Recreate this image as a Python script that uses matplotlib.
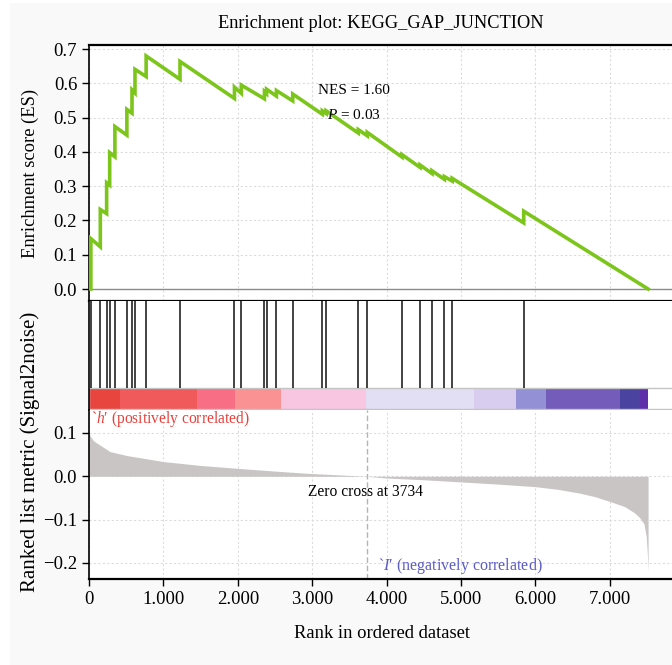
import matplotlib
matplotlib.use('Agg')
import matplotlib.pyplot as plt
from matplotlib.patches import Rectangle

plt.rcParams['font.family'] = ['Liberation Serif', 'DejaVu Serif']
plt.rcParams['mathtext.fontset'] = 'custom'
plt.rcParams['mathtext.rm'] = 'Liberation Serif'
plt.rcParams['mathtext.it'] = 'Liberation Serif:italic'

# running enrichment score, vertices (rank, ES)
es_rank = [0, 25, 25, 152, 152, 237, 237, 278, 278, 348, 348, 509, 509, 578, 578,
           618, 618, 768, 768, 1223, 1223, 1955, 1955, 2047, 2047, 2358, 2358,
           2387, 2387, 2519, 2519, 2738, 2738, 3136, 3136, 3187, 3187, 3620, 3620,
           3740, 3740, 4207, 4207, 4449, 4449, 4610, 4610, 4777, 4777, 4881, 4881,
           5843, 5843, 7515]
es_val = [0.0, 0.0, 0.147, 0.123, 0.232, 0.220, 0.310, 0.303, 0.398, 0.386, 0.474,
          0.449, 0.524, 0.513, 0.581, 0.572, 0.641, 0.620, 0.680, 0.612, 0.664,
          0.556, 0.589, 0.571, 0.595, 0.555, 0.576, 0.570, 0.583, 0.563, 0.579,
          0.549, 0.569, 0.510, 0.520, 0.512, 0.520, 0.455, 0.465, 0.447, 0.457,
          0.385, 0.392, 0.355, 0.362, 0.337, 0.345, 0.320, 0.328, 0.315, 0.323,
          0.193, 0.227, 0.0]

# gene set hits
hits = [25, 152, 237, 278, 348, 509, 578, 618, 768, 1223, 1955, 2047, 2358, 2387,
        2519, 2738, 3136, 3187, 3620, 3740, 4207, 4449, 4610, 4777, 4881, 5843]

# ranked list metric
metric_rank = [0, 20, 60, 148, 282, 506, 1000, 1500, 1985, 2500, 2926, 3734, 4000,
               4500, 5000, 5500, 6000, 6300, 6600, 6800, 7000, 7200, 7330, 7400,
               7460, 7490, 7505, 7515]
metric_val = [0.100, 0.092, 0.082, 0.072, 0.057, 0.048, 0.034, 0.025, 0.0185,
              0.012, 0.007, 0.0, -0.004, -0.008, -0.013, -0.018, -0.024, -0.030,
              -0.039, -0.047, -0.058, -0.070, -0.084, -0.095, -0.110, -0.140,
              -0.180, -0.220]

# colour bar segments (rank boundaries)
bar_edges = [0, 417, 1453, 1961, 2577, 3729, 5169, 5745, 6148, 7139, 7404, 7514]
bar_colors = ['#e8453f', '#f05a5a', '#f86e84', '#fa9193', '#f8c6e0', '#e2def4',
              '#d8cdee', '#9490d6', '#735cba', '#4a439f', '#5e2eaa']

zero_cross = 3734
x_ticks = [0, 1000, 2000, 3000, 4000, 5000, 6000, 7000]
es_ticks = [0.0, 0.1, 0.2, 0.3, 0.4, 0.5, 0.6, 0.7]
rk_ticks = [-0.2, -0.1, 0.0, 0.1]

W, H = 672, 665
fig = plt.figure(figsize=(W / 100, H / 100), dpi=100)
fig.patches.append(Rectangle((10 / W, 0), 1, (H - 3) / H, transform=fig.transFigure,
                             facecolor='#f9f9f9', edgecolor='none', zorder=-10))


def px_axes(top, bottom):
    left = 89 / W
    width = 7900 * 0.0744 / W
    return fig.add_axes([left, (H - bottom) / H, width, (bottom - top) / H])


xmax = 7900
grid_kw = dict(color='#dcdcdc', linestyle=(0, (2, 2)), linewidth=0.8)
tick_fs = 13.5

# --- ES panel
ax1 = px_axes(45, 301)
ax1.plot(es_rank, es_val, color='#7cc51a', lw=2.6, solid_joinstyle='miter', zorder=3)
ax1.axhline(0, color='#8c8c8c', lw=1, zorder=2)
ax1.set_xlim(0, xmax)
ax1.set_ylim(-0.035, 0.712)
ax1.set_yticks(es_ticks)
ax1.set_yticklabels([f'{v:.1f}' for v in es_ticks])
ax1.set_xticks(x_ticks)
ax1.tick_params(axis='x', length=0, labelbottom=False)
ax1.tick_params(axis='y', direction='out', length=5, width=1, labelsize=tick_fs)
ax1.grid(True, **grid_kw)
ax1.set_axisbelow(True)
ax1.spines['right'].set_visible(False)
for s in ['top', 'bottom']:
    ax1.spines[s].set_linewidth(1.6)
ax1.spines['left'].set_linewidth(1.2)
ax1.text(3562, 0.58, 'NES = 1.60', ha='center', va='center', fontsize=11)
ax1.text(3562, 0.507, '$P$ = 0.03', ha='center', va='center', fontsize=11)

# --- hits panel with colour bar
ax2 = px_axes(301, 410)
ax2.vlines(hits, 0.2, 1.0, color='#222222', lw=1.2)
for i, c in enumerate(bar_colors):
    ax2.add_patch(Rectangle((bar_edges[i], 0.01), bar_edges[i + 1] - bar_edges[i], 0.19,
                            facecolor=c, edgecolor='none'))
ax2.add_patch(Rectangle((0, 0.01), xmax, 0.19, facecolor='none', edgecolor='#c4c4c4', lw=1))
ax2.set_xlim(0, xmax)
ax2.set_ylim(0, 1)
ax2.set_xticks([])
ax2.set_yticks([])
for s in ['top', 'bottom', 'right']:
    ax2.spines[s].set_visible(False)
ax2.spines['left'].set_linewidth(1.2)

# --- ranked list metric
ax3 = px_axes(410, 579)
ax3.fill_between(metric_rank, metric_val, 0, color='#c9c5c5', lw=0, zorder=2)
ax3.axvline(zero_cross, color='#b4b4b4', lw=1, linestyle=(0, (4, 2)), zorder=1)
ax3.set_xlim(0, xmax)
ax3.set_ylim(-0.237, 0.153)
ax3.set_yticks(rk_ticks)
ax3.set_yticklabels(['\u22120.2', '\u22120.1', '0.0', '0.1'])
ax3.set_xticks(x_ticks)
ax3.set_xticklabels([f'{v:,}'.replace(',', '.') for v in x_ticks])
ax3.tick_params(direction='out', length=5, width=1, labelsize=tick_fs)
ax3.grid(True, **grid_kw)
ax3.set_axisbelow(True)
for s in ['top', 'right']:
    ax3.spines[s].set_visible(False)
ax3.spines['bottom'].set_linewidth(1.6)
ax3.spines['left'].set_linewidth(1.2)
ax3.text(30, 0.132, '`$h$\u2032 (positively correlated)', color='#e8413c',
         ha='left', va='center', fontsize=11.2)
ax3.text(3885, -0.207, '`$I$\u2032 (negatively correlated)', color='#5b5bc4',
         ha='left', va='center', fontsize=11.5)
ax3.text(3710, -0.037, 'Zero cross at 3734', ha='center', va='center', fontsize=11.2)

fig.text(381 / W, 1 - 24 / H, 'Enrichment plot: KEGG_GAP_JUNCTION', ha='center',
         va='center', fontsize=13.2)
fig.text(30 / W, 1 - 173 / H, 'Enrichment score (ES)', rotation=90, ha='center',
         va='center', fontsize=13.3)
fig.text(30 / W, 1 - 452 / H, 'Ranked list metric (Signal2noise)', rotation=90,
         ha='center', va='center', fontsize=15)
fig.text(382 / W, 1 - 633 / H, 'Rank in ordered dataset', ha='center', va='center',
         fontsize=13.4)

fig.savefig('out.png', dpi=100, facecolor='white')
